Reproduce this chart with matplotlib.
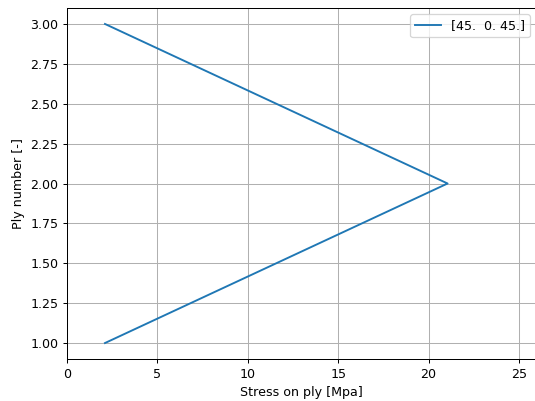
import matplotlib
matplotlib.use('Agg')
import matplotlib.pyplot as plt

# Stress per ply and ply index
stress = [2.1, 21.05, 2.1]
ply = [1, 2, 3]
label = '[45.  0. 45.]'

W, H = 535, 401
DPI = 91
fig = plt.figure(figsize=(W / DPI, H / DPI), dpi=DPI)

# axes placed in pixel terms (right spine cut off like the reference)
left, right, bottom, top = 67, 536, 359, 8
ax = fig.add_axes([left / W, (H - bottom) / H, (right - left) / W, (bottom - top) / H])

ax.plot(stress, ply, label=label)
ax.set_xlim(0, (right - left) / 18.08)
ax.set_ylim(0.9, 3.1)
ax.grid(True)
ax.legend(loc='upper right')
ax.set_xlabel('Stress on ply [Mpa]')
ax.set_ylabel('Ply number [-]')

fig.savefig('out.png', dpi=DPI)
